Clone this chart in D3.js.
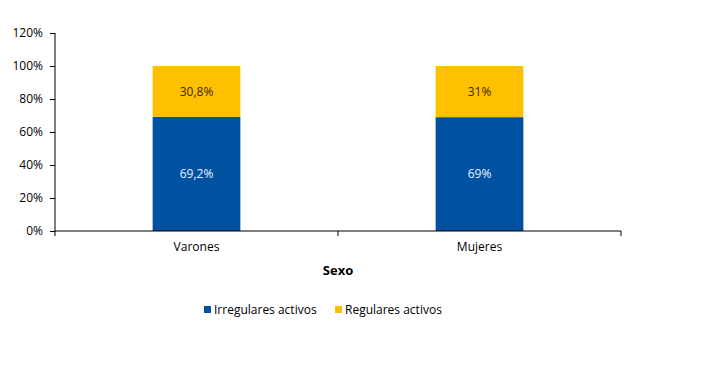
<!DOCTYPE html>
<html>
<head>
<meta charset="utf-8">
<script src="https://cdn.jsdelivr.net/npm/d3@7"></script>
<style>
  body { margin: 0; background: #fff; }
  text { font-family: "Open Sans", "Noto Sans", sans-serif; }
  .axis path, .axis line { stroke: #000; }
</style>
</head>
<body>
<svg class="chart" width="712" height="367"></svg>
<script>
/* data */
var categories = ["Varones", "Mujeres"];
var series = ["Irregulares activos", "Regulares activos"];
var irregulares = [69.2, 69];
var regulares = [30.8, 31];
var labelsIrr = ["69,2%", "69%"];
var labelsReg = ["30,8%", "31%"];
var yTicks = [0, 20, 40, 60, 80, 100, 120];
var colors = ["#0051A0", "#FFC000"];

var svg = d3.select(".chart"),
    margin = {top: 33, right: 91, bottom: 136, left: 55},
    width = +svg.attr("width") - margin.left - margin.right,
    height = +svg.attr("height") - margin.top - margin.bottom;

var x = d3.scaleBand().domain(categories).range([0, width]).paddingInner(0).paddingOuter(0),
    y = d3.scaleLinear().domain([0, 120]).range([height, 0]);

var g = svg.append("g")
    .attr("transform", "translate(" + margin.left + "," + margin.top + ")");

/* stack the two series */
var rows = categories.map(function(c, i) {
  return {cat: c, irr: irregulares[i], reg: regulares[i], li: labelsIrr[i], lr: labelsReg[i]};
});
var stack = d3.stack().keys(["irr", "reg"]);
var layers = stack(rows);

var barW = x.bandwidth() * 0.31;

var layer = g.selectAll(".layer")
  .data(layers)
  .enter().append("g")
    .attr("class", "layer")
    .attr("fill", function(d, i) { return colors[i]; });

layer.selectAll("rect")
  .data(function(d) { return d; })
  .enter().append("rect")
    .attr("x", function(d) { return x(d.data.cat) + (x.bandwidth() - barW) / 2; })
    .attr("y", function(d) { return y(d[1]); })
    .attr("width", barW)
    .attr("height", function(d) { return y(d[0]) - y(d[1]); });

layer.selectAll("text")
  .data(function(d, i) { return d.map(function(p) { p.k = i; return p; }); })
  .enter().append("text")
    .attr("x", function(d) { return x(d.data.cat) + x.bandwidth() / 2; })
    .attr("y", function(d) { return y((d[0] + d[1]) / 2); })
    .attr("dy", "0.35em")
    .attr("text-anchor", "middle")
    .attr("font-size", 12)
    .attr("fill", function(d) { return d.k === 0 ? "#EAF2FF" : "#3a2a00"; })
    .text(function(d) { return d.k === 0 ? d.data.li : d.data.lr; });

/* y axis */
var yAxis = g.append("g")
    .attr("class", "axis axis--y")
    .call(d3.axisLeft(y).tickValues(yTicks).tickSize(5).tickSizeOuter(0)
      .tickFormat(function(d) { return d + "%"; }));
yAxis.selectAll("text").attr("font-size", 12).attr("fill", "#000").attr("x", -12);
yAxis.select(".domain").attr("d", "M0," + height + "V0");

/* x axis: ticks on the category boundaries */
var xAxis = g.append("g")
    .attr("class", "axis axis--x")
    .attr("transform", "translate(0," + height + ")");
xAxis.append("line").attr("x1", 0).attr("x2", width).attr("y1", 0).attr("y2", 0).attr("stroke", "#000");
var bounds = [0].concat(categories.map(function(c) { return x(c) + x.bandwidth(); }));
xAxis.selectAll(".bt")
  .data(bounds)
  .enter().append("line")
    .attr("class", "bt")
    .attr("x1", function(d) { return d; })
    .attr("x2", function(d) { return d; })
    .attr("y1", 0).attr("y2", 5)
    .attr("stroke", "#000");
xAxis.selectAll(".cl")
  .data(categories)
  .enter().append("text")
    .attr("class", "cl")
    .attr("x", function(d) { return x(d) + x.bandwidth() / 2; })
    .attr("y", 20)
    .attr("text-anchor", "middle")
    .attr("font-size", 12)
    .text(function(d) { return d; });

/* axis title */
svg.append("text")
    .attr("x", margin.left + width / 2)
    .attr("y", 275)
    .attr("text-anchor", "middle")
    .attr("font-size", 13)
    .attr("font-weight", "bold")
    .text("Sexo");

/* legend */
var legendX = [204, 335];
var legend = svg.selectAll(".legend")
  .data(series)
  .enter().append("g")
    .attr("class", "legend")
    .attr("transform", function(d, i) { return "translate(" + legendX[i] + ",310)"; });
legend.append("rect")
    .attr("x", 0).attr("y", -4)
    .attr("width", 7).attr("height", 7)
    .attr("fill", function(d, i) { return colors[i]; });
legend.append("text")
    .attr("x", 10)
    .attr("dy", "0.35em")
    .attr("font-size", 12)
    .text(function(d) { return d; });
</script>
</body>
</html>
